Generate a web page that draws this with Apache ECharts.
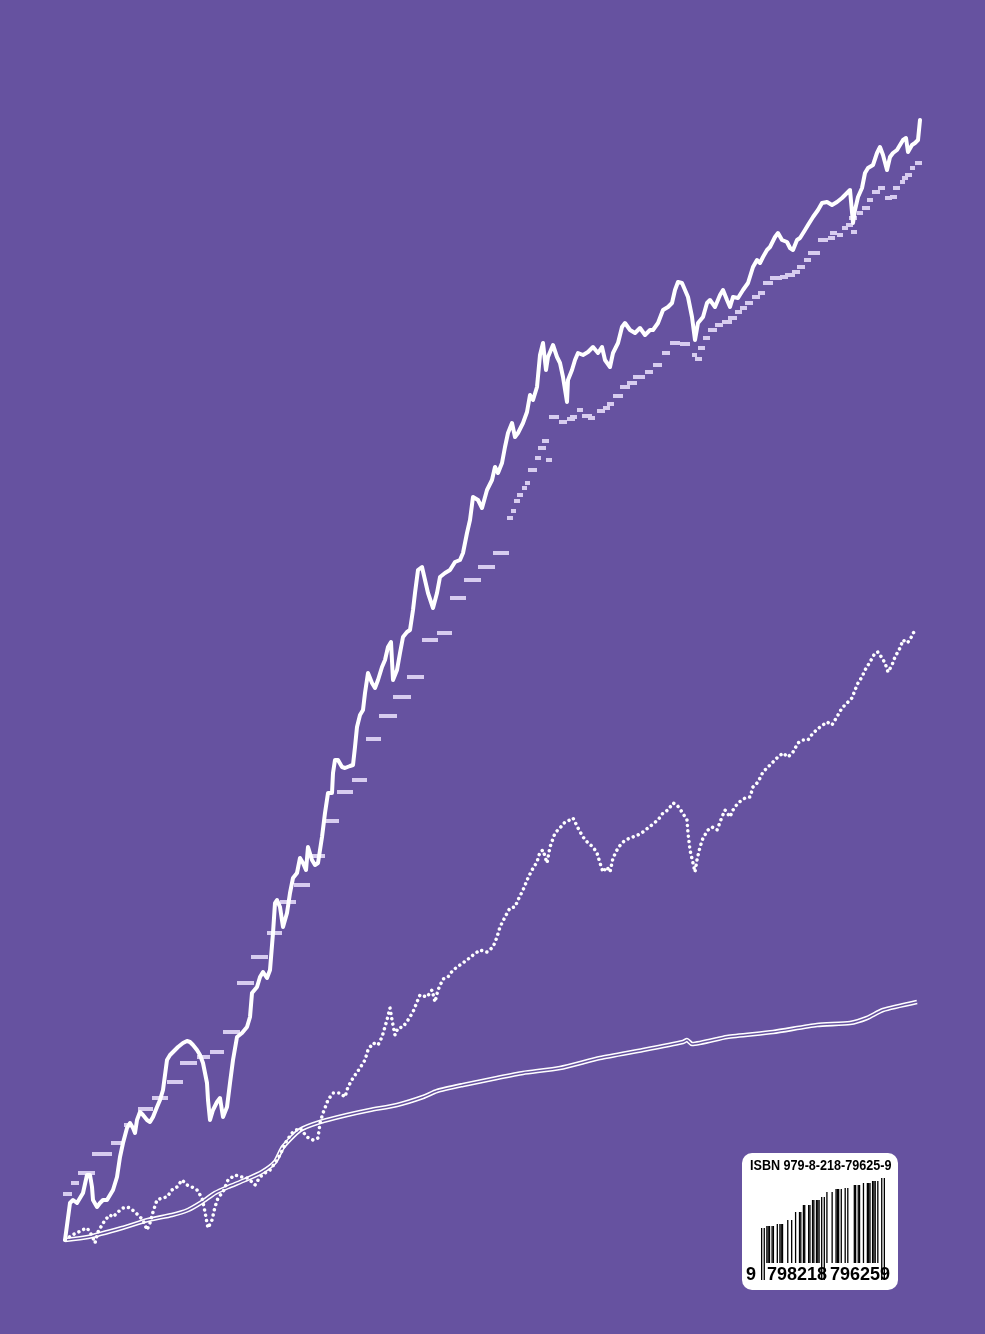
<!DOCTYPE html>
<html><head><meta charset="utf-8">
<script src="https://cdn.jsdelivr.net/npm/echarts@6/dist/echarts.min.js"></script>
<style>html,body{margin:0;padding:0;background:#6652a0}#c{width:985px;height:1334px}</style>
</head><body><div id="c"></div><script>
const BG = '#6652a0';
// x = time units, y = index value
const mainSeries = [[0,0],[5,37],[8,40],[12,37],[15,42],[18,47],[22,65],[23,67],[25,65],[27,53],[28,40],[32,33],[35,37],[38,40],[42,40],[45,45],[48,50],[52,63],[55,83],[58,97],[62,112],[65,117],[68,112],[70,107],[72,120],[75,128],[78,125],[82,120],[85,118],[88,123],[92,133],[95,140],[98,150],[102,180],[105,185],[110,190],[113,193],[118,197],[122,199],[125,198],[128,195],[132,190],[135,185],[138,177],[142,157],[143,140],[145,120],[148,130],[152,138],[155,142],[158,123],[162,133],[165,157],[168,180],[172,203],[177,207],[182,213],[185,223],[187,247],[192,253],[195,263],[198,268],[202,262],[205,270],[208,307],[210,337],[212,340],[215,333],[218,313],[222,327],[225,347],[228,362],[232,367],[235,382],[238,377],[241,370],[243,393],[247,380],[250,375],[253,377],[257,403],[260,427],[263,447],[267,447],[268,467],[270,480],[273,480],[277,473],[280,472],[285,474],[288,475],[290,493],[292,513],[295,525],[298,530],[300,547],[303,567],[307,557],[310,552],[313,560],[317,573],[320,580],[323,593],[326,598],[328,560],[332,570],[335,587],[338,603],[342,608],[345,610],[348,630],[350,647],[353,670],[357,673],[360,660],[363,647],[368,632],[372,647],[375,663],[380,667],[385,670],[390,678],[395,680],[398,687],[402,707],[405,720],[408,743],[413,740],[417,732],[422,750],[427,760],[430,773],[433,767],[437,777],[440,793],[443,807],[447,817],[450,803],[453,807],[458,817],[462,828],[465,845],[468,840],[472,853],[475,885],[478,897],[481,870],[483,883],[488,895],[492,883],[495,877],[498,863],[502,838],[503,860],[507,870],[510,880],[513,887],[518,885],[523,888],[528,893],[533,887],[537,893],[540,880],[545,873],[548,887],[553,897],[557,913],[560,917],[565,910],[570,907],[575,912],[580,905],[585,910],[588,910],[593,917],[598,930],[603,933],[607,937],[610,950],[613,958],[617,957],[620,950],[623,943],[627,923],[630,900],[633,917],[638,923],[642,937],[645,940],[650,933],[655,945],[658,950],[662,940],[665,933],[668,943],[673,942],[678,950],[683,957],[688,973],[692,980],[695,977],[698,983],[702,990],[705,993],[710,1003],[713,1007],[717,1000],[722,998],[725,992],[728,990],[732,1000],[735,1002],[740,1010],[743,1015],[748,1023],[753,1030],[757,1037],[762,1038],[767,1035],[772,1038],[777,1042],[782,1047],[785,1050],[788,1017],[790,1030],[793,1043],[797,1052],[800,1067],[803,1072],[808,1075],[812,1087],[815,1093],[818,1085],[822,1070],[825,1083],[828,1087],[832,1090],[835,1095],[838,1100],[841,1102],[843,1088],[847,1095],[850,1097],[853,1100],[855,1120]];

const dotSeries = [[0,0],[7,5],[12,7],[17,10],[22,12],[25,8],[28,2],[30,-3],[33,8],[37,15],[40,20],[45,25],[48,23],[53,28],[58,32],[62,33],[65,32],[70,28],[75,23],[78,20],[82,10],[85,17],[88,28],[92,40],[97,42],[102,43],[107,50],[112,53],[117,60],[122,55],[127,53],[132,50],[137,42],[140,28],[142,17],[143,12],[147,20],[150,33],[153,42],[158,48],[163,60],[170,65],[177,63],[182,62],[187,58],[190,55],[195,63],[200,67],[205,70],[210,77],[215,85],[222,100],[228,108],[235,112],[242,103],[248,100],[253,102],[255,117],[258,127],[263,140],[268,147],[275,147],[280,143],[283,153],[288,162],[295,172],[300,180],[303,190],[308,197],[313,195],[317,203],[322,220],[325,232],[327,220],[330,205],[333,212],[338,213],[343,220],[348,228],[352,238],[355,245],[362,243],[367,250],[370,238],[373,250],[378,261],[383,263],[388,270],[395,275],[402,280],[408,285],[415,290],[422,288],[428,293],[432,303],[435,313],[440,323],[445,332],[450,333],[453,340],[458,350],[463,362],[467,370],[472,378],[475,388],[478,390],[482,377],[485,393],[490,407],[495,412],[500,418],[505,420],[508,422],[513,412],[518,403],[523,397],[528,393],[532,387],[535,377],[538,368],[542,373],[545,368],[548,382],[553,392],[558,398],[563,401],[568,403],[573,405],[578,408],[583,412],[588,416],[593,420],[598,427],[603,430],[608,437],[612,435],[617,428],[622,420],[623,407],[625,390],[628,377],[630,368],[632,380],[635,393],[638,402],[643,410],[647,413],[652,410],[657,423],[660,430],[665,423],[668,430],[673,437],[680,442],[685,443],[688,453],[693,458],[698,468],[703,473],[708,478],[713,483],[718,487],[723,483],[728,488],[733,497],[738,500],[743,500],[748,507],[755,513],[762,518],[767,515],[770,520],[773,525],[777,532],[782,537],[787,542],[790,550],[793,557],[797,563],[800,570],[805,578],[810,587],[813,588],[817,582],[820,577],[823,568],[827,575],[830,583],[835,592],[838,600],[842,597],[845,600],[848,607],[852,610]];

const smoothSeries = [[0,0],[23,3],[57,12],[83,20],[107,25],[123,30],[137,38],[150,47],[163,53],[180,60],[197,68],[210,78],[218,93],[235,110],[255,118],[282,125],[305,130],[332,135],[358,143],[372,149],[398,155],[432,162],[458,167],[495,172],[535,182],[578,190],[618,198],[622,200],[627,196],[662,203],[708,208],[752,215],[785,217],[802,222],[818,230],[852,238]];

// [period start, period end, value]
const stepSeries = [[-2,7,46],[6,14,57],[13,30,67],[27,47,86],[46,57,97],[59,67,115],[73,88,131],[87,103,142],[102,118,158],[115,132,177],[132,145,183],[145,159,188],[158,175,208],[172,189,257],[186,203,283],[202,217,307],[215,231,338],[229,245,355],[247,260,384],[260,274,419],[272,288,448],[287,302,460],[301,316,501],[314,332,524],[328,346,543],[342,359,563],[357,373,600],[372,387,607],[385,401,642],[399,416,660],[413,430,673],[428,444,687],[442,448,722],[446,451,729],[449,455,739],[452,458,745],[457,462,752],[460,465,757],[463,472,770],[470,476,782],[473,481,792],[477,484,799],[481,487,780],[484,494,823],[494,502,818],[502,510,821],[505,512,823],[512,518,830],[517,527,824],[523,530,822],[532,540,829],[538,545,832],[542,549,836],[548,558,844],[555,565,853],[562,572,857],[568,580,863],[580,588,868],[588,597,875],[597,605,887],[605,615,897],[615,625,896],[627,632,885],[630,637,881],[633,640,892],[638,645,902],[643,652,910],[650,658,915],[657,667,918],[663,672,922],[670,677,928],[675,682,932],[680,688,937],[687,695,943],[693,700,947],[698,708,957],[705,717,962],[715,723,963],[720,730,965],[727,735,968],[732,740,973],[739,746,980],[743,755,987],[753,763,1000],[763,770,1002],[765,772,1007],[772,778,1005],[777,783,1012],[781,788,1015],[784,792,1022],[786,792,1008],[792,798,1027],[797,805,1032],[802,808,1040],[807,815,1048],[813,820,1052],[820,827,1042],[825,832,1043],[828,835,1052],[835,840,1058],[837,843,1062],[840,847,1065],[845,850,1072],[850,857,1077]];

const isbnLabel = 'ISBN 979-8-218-79625-9';
const eanDigits = '9798218796259';
// bar top height per barcode symbol: guard, 6 digits, centre guard, 6 digits, guard
const barcodeTops = [52,54,56,60,68,75,80,83,88,91,92,95,97,99,102];
const guardDrop = 17;

// EAN-13 module pattern
const L = ['0001101','0011001','0010011','0111101','0100011','0110001','0101111','0111011','0110111','0001011'];
const G = ['0100111','0110011','0011011','0100001','0011101','0111001','0000101','0010001','0001001','0010111'];
const R = L.map(s => s.split('').map(c => c === '1' ? '0' : '1').join(''));
const PAR = ['LLLLLL','LLGLGG','LLGGLG','LLGGGL','LGLLGG','LGGLLG','LGGGLL','LGLGLG','LGLGGL','LGGLGL'];
const bits = [], sym = [], guard = [];
function push(str, s, g) { for (const c of str) { bits.push(c === '1'); sym.push(s); guard.push(g); } }
push('101', 0, true);
const par = PAR[+eanDigits[0]];
for (let i = 0; i < 6; i++) { const d = +eanDigits[i + 1]; push(par[i] === 'L' ? L[d] : G[d], i + 1, false); }
push('01010', 7, true);
for (let i = 0; i < 6; i++) push(R[+eanDigits[i + 7]], i + 8, false);
push('101', 14, true);
const INK = '#000000', NONE = 'rgba(0,0,0,0)';

const chart = echarts.init(document.getElementById('c'), null, {renderer: 'canvas'});
chart.setOption({
  animation: false,
  backgroundColor: BG,
  grid: [
    {left: 65, right: 65, top: 120, bottom: 94},
    {left: 761, width: 124, top: 1170, height: 110}
  ],
  xAxis: [
    {type: 'value', min: 0, max: 855, show: false},
    {type: 'category', gridIndex: 1, data: bits.map((b, i) => i), show: false}
  ],
  yAxis: [
    {type: 'value', min: 0, max: 1120, show: false},
    {type: 'value', gridIndex: 1, min: 0, max: 110, show: false}
  ],
  graphic: [
    {type: 'rect', shape: {x: 742, y: 1153, width: 156, height: 137, r: 10}, style: {fill: '#ffffff'}, z: 0},
    {type: 'text', x: 750, y: 1166, scaleX: 0.9, z: 1,
      style: {text: isbnLabel, fill: INK, font: 'bold 14px "Liberation Sans", Arial, sans-serif', textAlign: 'left', textVerticalAlign: 'middle'}},
    {type: 'text', x: 751, y: 1275, z: 1,
      style: {text: eanDigits[0], fill: INK, font: 'bold 18px "Liberation Sans", Arial, sans-serif', textAlign: 'center', textVerticalAlign: 'middle'}},
    {type: 'text', x: 797, y: 1275, z: 1,
      style: {text: eanDigits.slice(1, 7), fill: INK, font: 'bold 18px "Liberation Sans", Arial, sans-serif', textAlign: 'center', textVerticalAlign: 'middle'}},
    {type: 'text', x: 860, y: 1275, z: 1,
      style: {text: eanDigits.slice(7), fill: INK, font: 'bold 18px "Liberation Sans", Arial, sans-serif', textAlign: 'center', textVerticalAlign: 'middle'}}
  ],
  series: [
    {type: 'line', data: smoothSeries, smooth: 0.2, symbol: 'none', clip: false, silent: true,
      lineStyle: {color: '#ffffff', width: 4.6}},
    {type: 'line', data: smoothSeries, smooth: 0.2, symbol: 'none', clip: false, silent: true,
      lineStyle: {color: BG, width: 1.5}},
    {type: 'line', data: dotSeries, symbol: 'none', clip: false, silent: true,
      lineStyle: {color: '#ffffff', width: 3.5, type: [0.01, 5.4], cap: 'round'}},
    {type: 'custom', data: stepSeries, encode: {x: [0, 1], y: 2}, clip: false, silent: true,
      renderItem(params, api) {
        const a = api.coord([api.value(0), api.value(2)]);
        const b = api.coord([api.value(1), api.value(2)]);
        return {type: 'rect', shape: {x: a[0], y: a[1] - 2, width: b[0] - a[0], height: 4}, style: {fill: '#d7ccef'}};
      }},
    {type: 'line', data: mainSeries, symbol: 'none', clip: false, silent: true,
      lineStyle: {color: '#ffffff', width: 4, join: 'round', cap: 'round'}},
    {type: 'bar', xAxisIndex: 1, yAxisIndex: 1, stack: 'ean', barCategoryGap: '0%', silent: true,
      data: bits.map((b, i) => ({value: guardDrop, itemStyle: {color: b && guard[i] ? INK : NONE}}))},
    {type: 'bar', xAxisIndex: 1, yAxisIndex: 1, stack: 'ean', barCategoryGap: '0%', silent: true,
      data: bits.map((b, i) => ({value: barcodeTops[sym[i]] - guardDrop, itemStyle: {color: b ? INK : NONE}}))}
  ]
});
</script></body></html>
